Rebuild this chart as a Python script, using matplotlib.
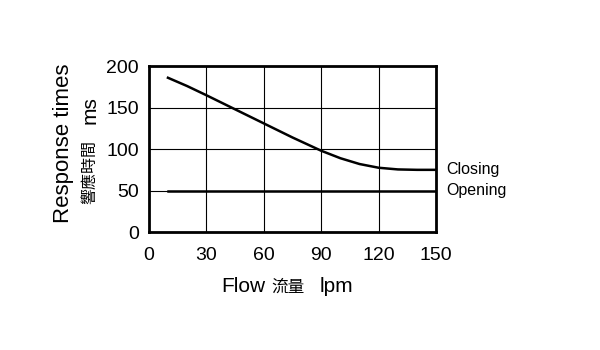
import matplotlib
matplotlib.use("Agg")
from matplotlib import pyplot as plt

plt.rcParams['font.family'] = ['Liberation Sans', 'Noto Sans CJK TC', 'DejaVu Sans']

# data
flow_closing = [10, 20, 30, 45, 60, 75, 90, 100, 110, 120, 130, 140, 150]
time_closing = [186, 176, 165, 148, 131, 114, 98, 89, 82, 77.5, 75.5, 75, 75]
flow_opening = [10, 150]
time_opening = [50, 50]
x_ticks = [0, 30, 60, 90, 120, 150]
y_ticks = [0, 50, 100, 150, 200]

fig = plt.figure(figsize=(6, 3.5), dpi=100)
ax = fig.add_axes([0.248, 0.337, 0.479, 0.474])

ax.plot(flow_closing, time_closing, color='black', lw=1.8)
ax.plot(flow_opening, time_opening, color='black', lw=1.8)

ax.set_xlim(0, 150)
ax.set_ylim(0, 200)
ax.set_xticks(x_ticks)
ax.set_yticks(y_ticks)
ax.grid(True, color='black', lw=0.8)
ax.tick_params(length=0, labelsize=14, pad=7)
ax.tick_params(axis='x', pad=11)
for s in ax.spines.values():
    s.set_linewidth(2)

ax.text(155, time_closing[-1] + 1, 'Closing', fontsize=11.5, va='center', ha='left')
ax.text(155, time_opening[-1], 'Opening', fontsize=11.5, va='center', ha='left')

fig.text(0.105, 0.59, 'Response times', rotation=90, fontsize=16, ha='center', va='center')
fig.text(0.15, 0.686, 'ms', rotation=90, fontsize=15, ha='center', va='center')
fig.text(0.15, 0.509, '響應時間', rotation=90, fontsize=11.5, ha='center', va='center')
fig.text(0.368, 0.18, 'Flow', fontsize=15, ha='left', va='center')
fig.text(0.48, 0.18, '流量', fontsize=12, ha='center', va='center')
fig.text(0.533, 0.18, 'lpm', fontsize=15, ha='left', va='center')

fig.savefig('out.png', dpi=100)
